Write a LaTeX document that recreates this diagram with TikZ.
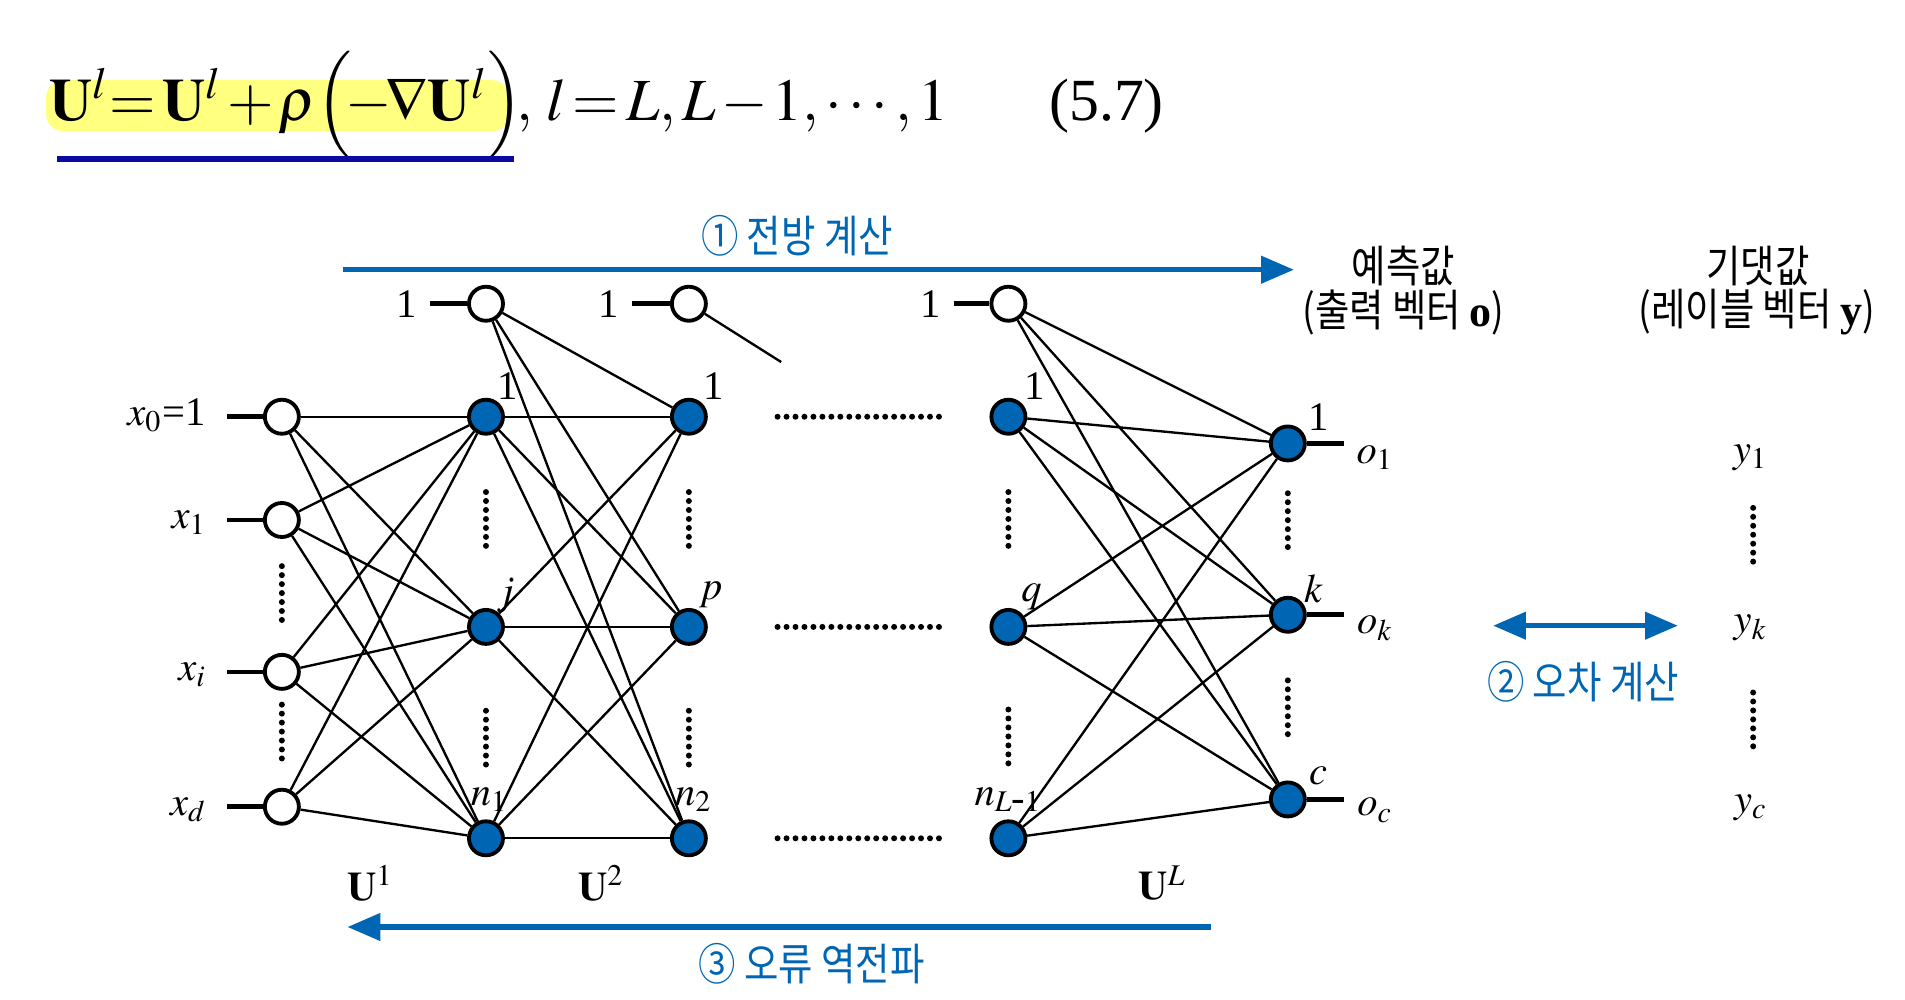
\documentclass[tikz,border=0pt]{standalone}
\usepackage{mathptmx}
\usepackage{fontspec}
\setmainfont{Liberation Serif}
\newfontfamily\krfont[FakeStretch=0.85]{Noto Sans CJK KR}
\usepackage{tikz}
\usetikzlibrary{arrows.meta}
\definecolor{nnblue}{RGB}{0,102,179}
\definecolor{hlyellow}{RGB}{255,255,128}
\definecolor{ulblue}{RGB}{10,10,160}
\newcommand\dotCol[3]{
    \draw[DT] (#1,#2) -- (#1,#3);
}
\newcommand\dotRow[3]{
    \draw[DT] (#2,#1) -- (#3,#1);
}
\begin{document}
\begin{tikzpicture}[
        W/.style={circle, draw, line width=0.9pt, fill=white, minimum size=2.8mm, inner sep=0pt},
        F/.style={W, fill=nnblue},
        E/.style={line width=0.55pt},
        S/.style={line width=1.1pt},
        DT/.style={line width=1.4pt, line cap=round, dash pattern=on 0pt off 2.1pt},
        L/.style={font=\fontsize{9.5}{11}\selectfont, inner sep=0pt},
        K/.style={font=\krfont\fontsize{10.3}{12}\selectfont, inner sep=0pt},
        BA/.style={nnblue, line width=1.2pt},
        tip/.style={>={Triangle[length=2.7mm,width=2.2mm]}}
    ]
    \useasboundingbox (0,0) rectangle (15.68,-8.23);

    \def\cIn{2.32}
    \def\cA{4.00}
    \def\cB{5.67}
    \def\cC{8.30}
    \def\cOut{10.60}

    % equation
    \fill[hlyellow, rounded corners=4pt] (0.38,-0.66) rectangle (4.19,-1.08);
    \node[anchor=base west, inner sep=0pt] (EQ) at (0.40,-0.99) {\fontsize{14}{16}\selectfont
        \thickmuskip=2mu \medmuskip=1.5mu
        $\mathbf{U}^{l}\!= \mathbf{U}^{l} + \rho\Bigl(\!-\!\nabla\mathbf{U}^{l}\Bigr)\!,\; l = L, L-1, \cdots, 1$};
    \node[anchor=base west, inner sep=0pt] (EQn) at (8.63,-0.99) {\fontsize{14}{16}\selectfont (5.7)};
    \draw[ulblue, line width=1.3pt] (0.47,-1.31) -- (4.23,-1.31);

    % neurons
    \node[W] (I0) at (\cIn,-3.43) {};
    \node[W] (I1) at (\cIn,-4.28) {};
    \node[W] (Ii) at (\cIn,-5.53) {};
    \node[W] (Id) at (\cIn,-6.64) {};
    \node[W] (Ba) at (\cA,-2.50) {};
    \node[W] (Bb) at (\cB,-2.50) {};
    \node[W] (Bc) at (\cC,-2.50) {};
    \node[F] (Ha1) at (\cA,-3.43) {};
    \node[F] (Haj) at (\cA,-5.16) {};
    \node[F] (Han) at (\cA,-6.90) {};
    \node[F] (Hb1) at (\cB,-3.43) {};
    \node[F] (Hbp) at (\cB,-5.16) {};
    \node[F] (Hbn) at (\cB,-6.90) {};
    \node[F] (Hc1) at (\cC,-3.43) {};
    \node[F] (Hcq) at (\cC,-5.16) {};
    \node[F] (Hcn) at (\cC,-6.90) {};
    \node[F] (O1) at (\cOut,-3.65) {};
    \node[F] (Ok) at (\cOut,-5.06) {};
    \node[F] (Oc) at (\cOut,-6.58) {};

    % weights
    \foreach \a in {I0,I1,Ii,Id}
        \foreach \b in {Ha1,Haj,Han}
            \draw[E] (\a) -- (\b);
    \foreach \a in {Ba,Ha1,Haj,Han}
        \foreach \b in {Hb1,Hbp,Hbn}
            \draw[E] (\a) -- (\b);
    \foreach \a in {Bc,Hc1,Hcq,Hcn}
        \foreach \b in {O1,Ok,Oc}
            \draw[E] (\a) -- (\b);
    \coordinate (BbE) at (6.43,-2.98);
    \draw[E] (Bb) -- (BbE);

    % input labels and stubs
    \node[L, anchor=base east] (lI0) at (1.70,-3.50) {$x_{0}$=1};
    \node[L, anchor=base east] (lI1) at (1.71,-4.35) {$x_{1}$};
    \node[L, anchor=base east] (lIi) at (1.71,-5.60) {$x_{i}$};
    \node[L, anchor=base east] (lId) at (1.71,-6.71) {$x_{d}$};
    \foreach \n/\y in {I0/-3.43,I1/-4.28,Ii/-5.53,Id/-6.64}
    {
        \coordinate (s\n) at (1.87,\y);
        \draw[S] (s\n) -- (\n);
    }

    % bias labels
    \node[L, anchor=east] (lBa) at (3.44,-2.50) {1};
    \node[L, anchor=east] (lBb) at (5.10,-2.50) {1};
    \node[L, anchor=east] (lBc) at (7.75,-2.50) {1};
    \foreach \n in {Ba,Bb,Bc}
        \draw[S] ([xshift=1mm]l\n.east) -- (\n);

    % node indices
    \node[L] (tHa1) at (4.18,-3.18) {1};
    \node[L] (tHaj) at (4.16,-4.90) {$j$};
    \node[L] (tHan) at (4.03,-6.58) {$n_{1}$};
    \node[L] (tHb1) at (5.87,-3.18) {1};
    \node[L] (tHbp) at (5.85,-4.90) {$p$};
    \node[L] (tHbn) at (5.71,-6.58) {$n_{2}$};
    \node[L] (tHc1) at (8.52,-3.18) {1};
    \node[L] (tHcq) at (8.49,-4.91) {$q$};
    \node[L] (tHcn) at (8.30,-6.58) {$n_{L\mbox{-}1}$};
    \node[L] (tO1) at (10.85,-3.43) {1};
    \node[L] (tOk) at (10.81,-4.85) {$k$};
    \node[L] (tOc) at (10.85,-6.39) {$c$};

    % outputs and labels
    \foreach \n/\y in {O1/-3.65,Ok/-5.06,Oc/-6.58}
    {
        \coordinate (s\n) at (11.06,\y);
        \draw[S] (\n) -- (s\n);
    }
    \node[L] (lO1) at (11.32,-3.77) {$o_{1}$};
    \node[L] (lOk) at (11.32,-5.17) {$o_{k}$};
    \node[L] (lOc) at (11.32,-6.67) {$o_{c}$};
    \node[L] (lY1) at (14.41,-3.77) {$y_{1}$};
    \node[L] (lYk) at (14.41,-5.17) {$y_{k}$};
    \node[L] (lYc) at (14.41,-6.65) {$y_{c}$};

    \node[L] (U1) at (3.05,-7.27) {$\mathbf{U}^{1}$};
    \node[L] (U2) at (4.95,-7.27) {$\mathbf{U}^{2}$};
    \node[L] (UL) at (9.57,-7.27) {$\mathbf{U}^{L}$};

    % dots
    \dotCol{\cIn}{-4.66}{-5.13}
    \dotCol{\cIn}{-5.80}{-6.26}
    \dotCol{\cA}{-4.05}{-4.50}
    \dotCol{\cA}{-5.85}{-6.30}
    \dotCol{\cB}{-4.05}{-4.50}
    \dotCol{\cB}{-5.85}{-6.30}
    \dotCol{\cC}{-4.05}{-4.52}
    \dotCol{\cC}{-5.84}{-6.32}
    \dotCol{\cOut}{-4.06}{-4.54}
    \dotCol{\cOut}{-5.60}{-6.07}
    \dotCol{14.43}{-4.18}{-4.65}
    \dotCol{14.43}{-5.70}{-6.19}
    \foreach \y in {-3.43,-5.16,-6.90}
    {
        \dotRow{\y}{6.40}{7.73}
    }

    % passes
    \coordinate (fa) at (2.82,-2.22);
    \coordinate (fb) at (10.65,-2.22);
    \draw[BA, tip, ->] (fa) -- (fb);
    \node[K, nnblue] (fwd) at (6.56,-1.94) {① 전방 계산};
    \node[K] (pred) at (11.55,-2.19) {예측값};
    \node[K] (predv) at (11.55,-2.57) {(출력 벡터 {\normalfont\bfseries o})};
    \node[K] (expc) at (14.47,-2.19) {기댓값};
    \node[K] (expv) at (14.46,-2.57) {(레이블 벡터 {\normalfont\bfseries y})};

    \coordinate (ea) at (12.29,-5.15);
    \coordinate (eb) at (13.81,-5.15);
    \draw[BA, tip, <->] (ea) -- (eb);
    \node[K, nnblue] (err) at (13.03,-5.61) {② 오차 계산};

    \coordinate (ba) at (9.97,-7.63);
    \coordinate (bb) at (2.86,-7.63);
    \draw[BA, tip, ->] (ba) -- (bb);
    \node[K, nnblue] (bwd) at (6.68,-7.93) {③ 오류 역전파};
\end{tikzpicture}
\end{document}
